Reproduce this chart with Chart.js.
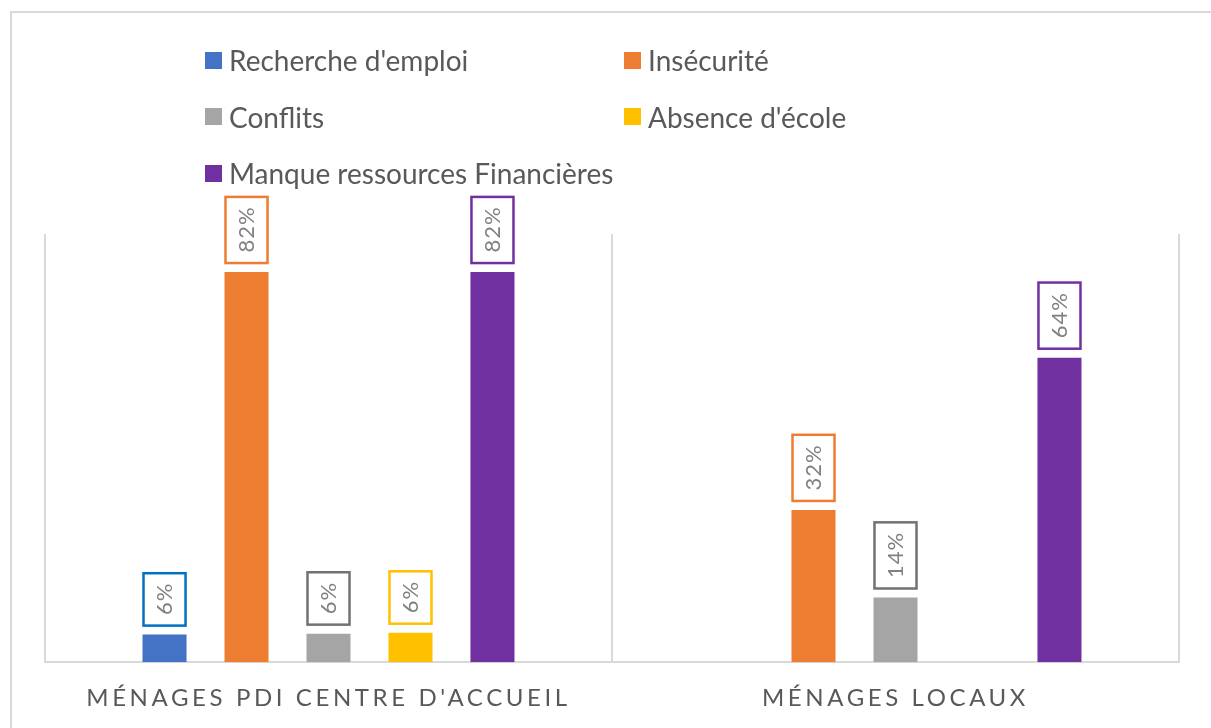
<!DOCTYPE html>
<html>
<head>
<meta charset="utf-8">
<title>Raisons du déplacement</title>
<script src="https://cdn.jsdelivr.net/npm/chart.js@4/dist/chart.umd.min.js"></script>
<style>
  html, body { margin: 0; padding: 0; background: #fff; }
  body { width: 1211px; height: 728px; position: relative; overflow: hidden; font-family: Lato, "Open Sans", sans-serif; }
  #frame { position: absolute; left: 10px; top: 11px; width: 1210px; height: 730px; border-left: 2px solid #d9d9d9; border-top: 2px solid #d9d9d9; }
  #chart { position: absolute; left: 0; top: 0; }
  #legend { position: absolute; left: 205px; top: 32px; display: grid; grid-template-columns: 419px auto; grid-auto-rows: 56.5px; align-items: center; }
  .item { display: flex; align-items: center; font-size: 28px; color: #595959; white-space: nowrap; }
  .item i { width: 17px; height: 17px; margin-right: 7px; display: inline-block; }
</style>
</head>
<body>
<div id="frame"></div>
<canvas id="chart" width="1211" height="740"></canvas>
<div id="legend"></div>
<script>
// categories and series
const categories = ["MÉNAGES PDI CENTRE D'ACCUEIL", "MÉNAGES LOCAUX"];
const seriesNames = ["Recherche d'emploi", "Insécurité", "Conflits", "Absence d'école", "Manque ressources Financières"];

const rechercheEmploi = [5.8, null];
const insecurite = [82, 32];
const conflits = [6.0, 13.6];
const absenceEcole = [6.2, null];
const manqueRessources = [82, 64];

const yMax = 90;

const barColors = ['#4472C4', '#ED7D31', '#A5A5A5', '#FFC000', '#7030A0'];
const labelBorders = ['#0070C0', '#ED7D31', '#767171', '#FFC000', '#7030A0'];

const seriesValues = [rechercheEmploi, insecurite, conflits, absenceEcole, manqueRessources];

// boxed, rotated value labels above each bar
const boxLabels = {
    id: 'boxLabels',
    beforeDraw(chart) {
        chart.ctx.letterSpacing = '3.6px';
    },
    beforeDatasetsDraw(chart) {
        chart.ctx.letterSpacing = '0px';
    },
    afterDatasetsDraw(chart) {
        const ctx = chart.ctx;
        chart.data.datasets.forEach((ds, i) => {
            const meta = chart.getDatasetMeta(i);
            meta.data.forEach((bar, j) => {
                const v = ds.data[j];
                if (v === null || v === undefined) return;
                const txt = Math.round(v) + '%';
                ctx.save();
                ctx.font = '22px Lato';
                ctx.letterSpacing = '1px';
                const tw = ctx.measureText(txt).width;
                const w = bar.width;
                const h = tw + 22;
                const bottom = bar.y - 8;
                ctx.fillStyle = '#fff';
                ctx.fillRect(bar.x - w / 2, bottom - h, w, h);
                ctx.strokeStyle = labelBorders[i];
                ctx.lineWidth = 2.5;
                ctx.strokeRect(bar.x - w / 2 + 1, bottom - h + 1, w - 2, h - 2);
                ctx.translate(bar.x, bottom - h / 2);
                ctx.rotate(-Math.PI / 2);
                ctx.fillStyle = '#808080';
                ctx.textAlign = 'center';
                ctx.textBaseline = 'middle';
                ctx.fillText(txt, 0.5, 0);
                ctx.restore();
            });
        });
    }
};

const ctx = document.getElementById('chart');

const chart = new Chart(ctx, {
    type: 'bar',
    data: {
        labels: categories,
        datasets: seriesNames.map((name, i) => ({
            label: name,
            data: seriesValues[i],
            backgroundColor: barColors[i],
            borderWidth: 0,
            categoryPercentage: 0.723,
            barPercentage: 0.537
        }))
    },
    options: {
        responsive: false,
        animation: false,
        layout: {
            padding: { left: 45, right: 32, top: 234, bottom: 5 }
        },
        plugins: {
            legend: { display: false },
            tooltip: { enabled: false }
        },
        scales: {
            x: {
                grid: { offset: true, color: '#d9d9d9', lineWidth: 2, drawTicks: false },
                border: { display: true, color: '#d9d9d9', width: 2 },
                ticks: {
                    color: '#595959',
                    font: { family: 'Lato', size: 24 },
                    padding: 22
                }
            },
            y: {
                display: false,
                min: 0,
                max: yMax
            }
        }
    },
    plugins: [boxLabels]
});

// legend in two columns
const legend = document.getElementById('legend');
chart.data.datasets.forEach((ds) => {
    const item = document.createElement('div');
    item.className = 'item';
    const sw = document.createElement('i');
    sw.style.background = ds.backgroundColor;
    item.appendChild(sw);
    item.appendChild(document.createTextNode(ds.label));
    legend.appendChild(item);
});
</script>
</body>
</html>
